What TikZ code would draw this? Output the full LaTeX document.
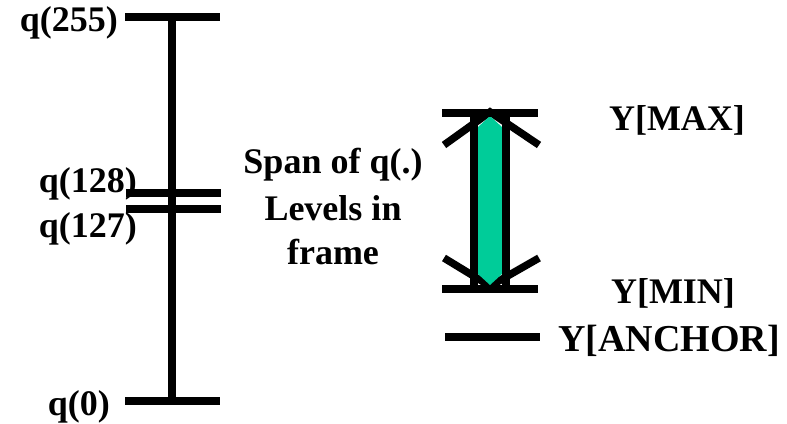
\documentclass[tikz,border=0pt]{standalone}
\usepackage{fontspec}
\setmainfont{Liberation Serif}
\usepackage{tikz}
\usetikzlibrary{positioning}

\definecolor{spangreen}{RGB}{0,204,153}

\begin{document}
\begin{tikzpicture}[x=1pt, y=-1pt,
    bar/.style={line width=7.5pt},
    lbl/.style={font=\fontsize{36}{40}\selectfont\bfseries, inner sep=0pt}]
    \useasboundingbox (0,0) rectangle (787,423);

    % Left: full range of q(.) levels
    \draw[bar] (172,16) -- (172,405);
    \draw[bar] (125,17) -- (220,17);
    \draw[bar] (126,193) -- (221,193);
    \draw[bar] (126,209) -- (221,209);
    \draw[bar] (125,401) -- (220,401);
    \node[lbl, anchor=base east] (q255) at (118,31) {q(255)};
    \node[lbl, anchor=base east] (q128) at (137,192) {q(128)};
    \node[lbl, anchor=base east] (q127) at (137,237) {q(127)};
    \node[lbl, anchor=base east] (q0) at (110,415) {q(0)};

    % Middle: caption
    \node[lbl, anchor=base] (span) at (333,173) {Span of q(.)};
    \node[lbl, anchor=base] (levels) at (333,220) {Levels in};
    \node[lbl, anchor=base] (frame) at (333,264) {frame};

    % Right: span in frame
    \draw[bar] (444,145) -- (490,112) -- (539,145);
    \draw[bar] (444,258) -- (490,286) -- (539,258);
    \fill[spangreen] (478,127) -- (490,116) -- (502,127) -- (502,274)
        -- (490,285) -- (478,274) -- cycle;
    \draw[bar] (474,113) -- (474,289);
    \draw[bar] (506,113) -- (506,289);
    \draw[bar] (442,113) -- (538,113);
    \draw[bar] (442,289) -- (538,289);
    \draw[bar] (445,337) -- (540,337);
    \node[lbl, anchor=base] (ymax) at (677,130) {Y[MAX]};
    \node[lbl, anchor=base] (ymin) at (673,303) {Y[MIN]};
    \node[lbl, anchor=base west, font=\fontsize{38}{42}\selectfont\bfseries] (yanchor) at (558,351) {Y[ANCHOR]};
\end{tikzpicture}
\end{document}
